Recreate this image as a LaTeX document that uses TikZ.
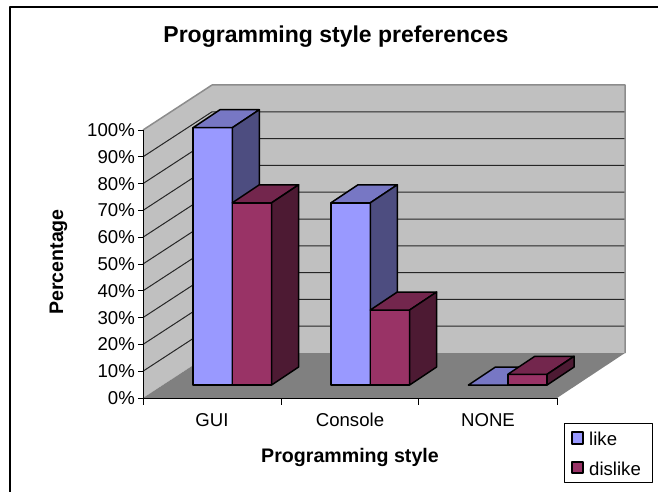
\documentclass[tikz,border=0pt]{standalone}
\usepackage{fontspec}
\setmainfont{Liberation Sans}
\usetikzlibrary{calc}

\definecolor{wallgray}{RGB}{192,192,192}
\definecolor{floorgray}{RGB}{128,128,128}
\definecolor{edgegray}{RGB}{140,140,140}
\definecolor{likefront}{RGB}{153,153,255}
\definecolor{liketop}{RGB}{119,119,196}
\definecolor{likeside}{RGB}{77,77,128}
\definecolor{dislikefront}{RGB}{153,51,102}
\definecolor{disliketop}{RGB}{115,38,77}
\definecolor{dislikeside}{RGB}{77,26,51}

% one 3D bar: left x of front face, height, series name
\newcommand{\barbox}[3]{%
  \filldraw[barline, fill=#3front] (#1,385) rectangle ({#1+39.3},{385-#2});
  \filldraw[barline, fill=#3top] (#1,{385-#2}) -- ++(27,-18) -- ++(39.3,0) -- ++(-27,18) -- cycle;
  \filldraw[barline, fill=#3side] ({#1+39.3},385) -- ++(27,-18) -- ++(0,{-#2}) -- ++(-27,18) -- cycle;
}

\begin{document}
\begin{tikzpicture}[x=1pt, y=-1pt, line join=round,
    barline/.style={draw=black, line width=1.5pt},
    gridline/.style={draw=black!85, line width=1pt},
    ticklabel/.style={inner sep=0pt, font=\fontsize{18.6}{20}\selectfont},
    axistitle/.style={inner sep=0pt, font=\fontsize{19.6}{22}\selectfont\bfseries}]
    \useasboundingbox (0,0) rectangle (658,492);
    \clip (0,0) rectangle (658,492);

    % chart frame
    \draw[line width=1.5pt] (10,500) -- (10,7) -- (670,7);

    % walls and floor
    \coordinate (O) at (143,398);
    \coordinate (Otop) at (143,130);
    \coordinate (B) at (212,353);
    \coordinate (Btop) at (212,85);
    \coordinate (R) at (625,353);
    \coordinate (Rtop) at (625,85);
    \coordinate (F) at (557,398);

    \fill[wallgray] (O) -- (Otop) -- (Btop) -- (B) -- cycle;
    \fill[wallgray] (B) -- (Btop) -- (Rtop) -- (R) -- cycle;
    \foreach \k in {1,...,9} {
        \draw[gridline] (143,{398-26.8*\k}) -- (212,{353-26.8*\k}) -- (625,{353-26.8*\k});
    }
    \draw[edgegray, line width=1.5pt] (Otop) -- (Btop) -- (Rtop) -- (R);
    \fill[floorgray] (O) -- (B) -- (R) -- (F) -- cycle;

    % axes
    \draw[line width=1pt] (Otop) -- (O) -- (F);
    \foreach \v in {0,10,...,100} {
        \draw[line width=1pt] (138,{398-2.68*\v}) -- (143,{398-2.68*\v});
        \node[ticklabel, anchor=east] (tick\v) at (135,{398-2.68*\v}) {\v\%};
    }
    \foreach \x in {143,281,418,557} {
        \draw[line width=1pt] (\x,398) -- (\x,405);
    }

    % bars (25 answers)
    \barbox{193}{257.3}{like}
    \barbox{232.3}{182.2}{dislike}
    \barbox{331}{182.2}{like}
    \barbox{370.3}{75}{dislike}
    \barbox{468.5}{0}{like}
    \barbox{507.8}{10.7}{dislike}

    % category labels
    \node[ticklabel] (gui) at (212,420) {GUI};
    \node[ticklabel] (console) at (350,420) {Console};
    \node[ticklabel] (none) at (488,420) {NONE};

    % titles
    \node[inner sep=0pt, anchor=base, font=\fontsize{23}{26}\selectfont\bfseries] (title) at (336,43) {Programming style preferences};
    \node[axistitle, anchor=base] (xtitle) at (350,462) {Programming style};
    \node[axistitle, anchor=base, rotate=90] (ytitle) at (63,262) {Percentage};

    % legend
    \draw[fill=white, line width=1pt] (564,423) rectangle (652,482);
    \filldraw[barline, fill=likefront] (572,432) rectangle (583,444);
    \filldraw[barline, fill=dislikefront] (572,462) rectangle (583,473);
    \node[ticklabel, anchor=base west] (likekey) at (589,445) {like};
    \node[ticklabel, anchor=base west] (dislikekey) at (589,475) {dislike};
\end{tikzpicture}
\end{document}
